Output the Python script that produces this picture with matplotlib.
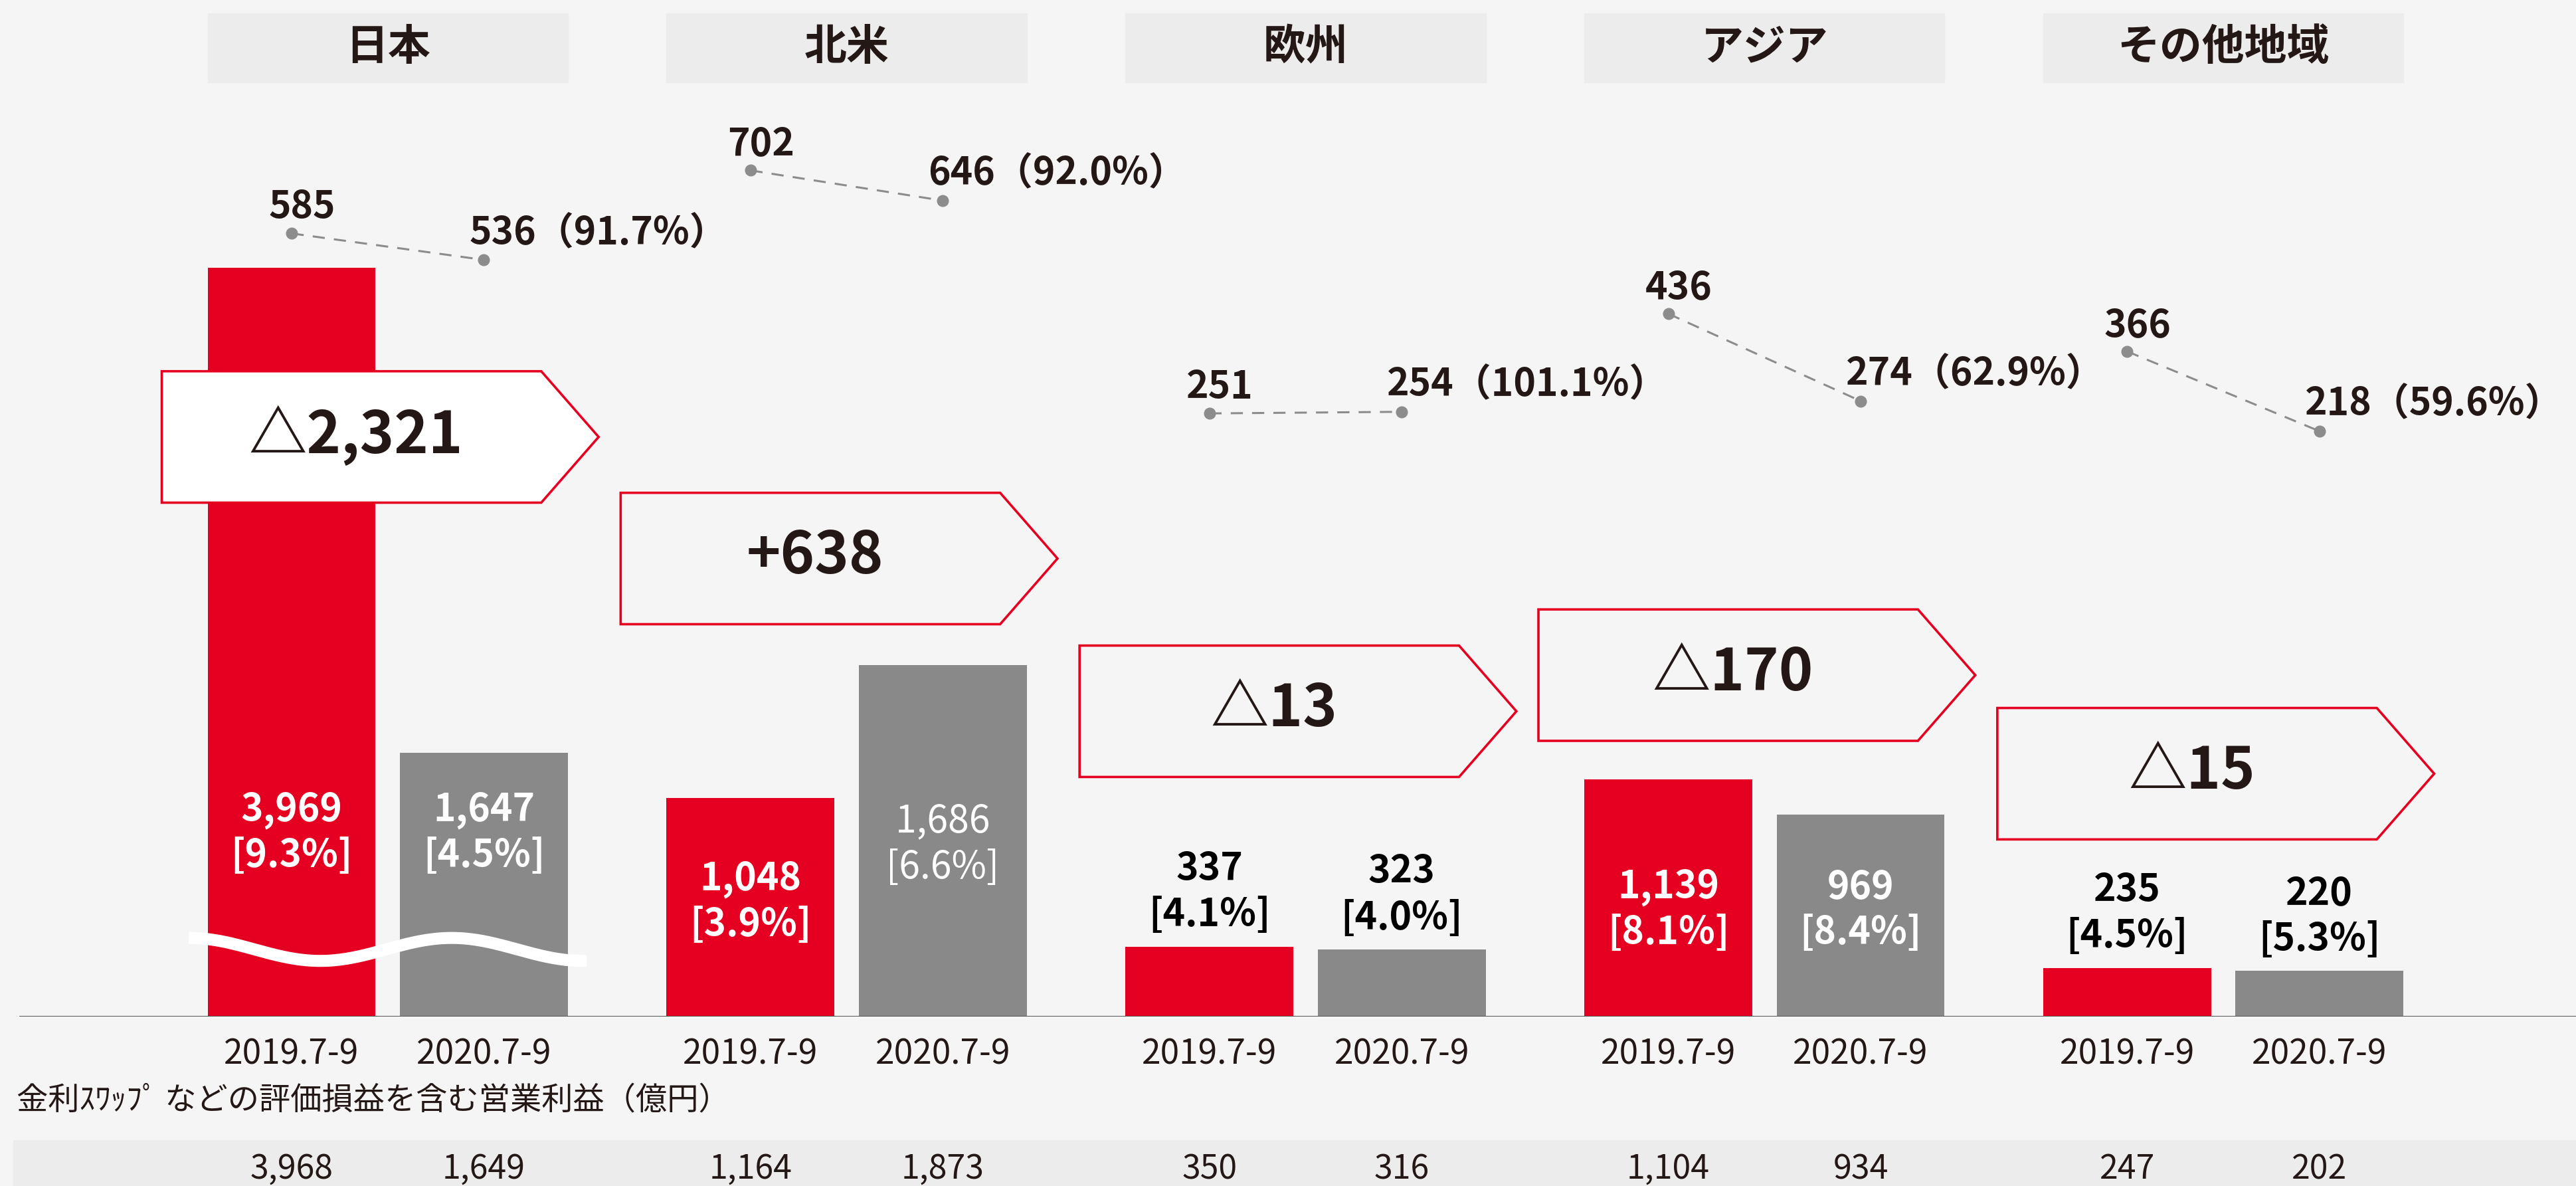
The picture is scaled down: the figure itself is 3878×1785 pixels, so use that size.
import numpy as np
import matplotlib
matplotlib.use("Agg")
import matplotlib.pyplot as plt
from matplotlib.patches import Rectangle, Polygon
from matplotlib.transforms import blended_transform_factory

# データ
regions = ["日本", "北米", "欧州", "アジア", "その他地域"]
periods = ["2019.7-9", "2020.7-9"]
profit_2019 = [3969, 1048, 337, 1139, 235]
profit_2020 = [1647, 1686, 323, 969, 220]
margin_2019 = ["9.3%", "3.9%", "4.1%", "8.1%", "4.5%"]
margin_2020 = ["4.5%", "6.6%", "4.0%", "8.4%", "5.3%"]
diff_labels = ["△2,321", "+638", "△13", "△170", "△15"]
line_2019 = [585, 702, 251, 436, 366]
line_2020 = [536, 646, 254, 274, 218]
line_ratio = ["91.7%", "92.0%", "101.1%", "62.9%", "59.6%"]
swap_2019 = [3968, 1164, 350, 1104, 247]
swap_2020 = [1649, 1873, 316, 934, 202]
note = "金利ｽﾜｯﾌﾟ などの評価損益を含む営業利益（億円）"

# 配置
RED = "#e50021"
GRAY = "#898989"
DARK = "#231815"
BG = "#f5f5f5"
NUM = ["Noto Sans CJK JP", "DejaVu Sans"]
JP = ["Noto Sans CJK JP", "DejaVu Sans"]
REF_H = 722.0
bw, off = 0.366, 0.419
cut = [380, 0, 0, 0, 0]              # 日本は省略表示
box_y = [266, 340, 433, 411, 471]    # 矢印ボックス中心 (参照px)
in_lab_y = [(493, 493), (535, 500), None, (540, 540), None]
light_lab = [(False, False), (False, True), None, (False, False), None]

fig = plt.figure(figsize=(38.78, 17.85), dpi=100, facecolor=BG)
ax = fig.add_axes([0, 1 - 619 / REF_H, 1, 619 / REF_H])
ax.set_xlim(-0.6355, 4.978)
ax.set_ylim(0, 619 / 0.127)
ax.axis("off")
tr = blended_transform_factory(ax.transData, fig.transFigure)

def fy(y):
    return 1 - y / REF_H

xs = np.arange(len(regions))
h19 = np.array(profit_2019) - np.array(cut)
h20 = np.array(profit_2020) - np.array(cut)
ax.bar(xs, h19, bw, color=RED, zorder=2)
ax.bar(xs + off, h20, bw, color=GRAY, zorder=2)
ax.axhline(0, xmin=12 / 1568, color="#5a5a5a", lw=2.2, zorder=3)

# 省略の波線
wx = np.linspace(-0.224, 0.643, 200)
ax.plot(wx, 323 + 55 * np.cos(np.pi * (wx + 0.224) / 0.2864),
        color="white", lw=13, solid_capstyle="butt", zorder=4)

# 見出し
for i, name in enumerate(regions):
    ax.add_patch(Rectangle((i - bw / 2, fy(50)), off + bw, fy(8) - fy(50),
                           transform=tr, color="#ececec", zorder=1))
    ax.text(i + off / 2, fy(29), name, transform=tr, ha="center", va="center",
            fontsize=46, fontweight="bold", family=JP, color=DARK)

# 矢印ボックス
for i, lab in enumerate(diff_labels):
    L, R, T = i - 0.283, i + 0.544, i + 0.669
    yc, hh = fy(box_y[i]), 40 / REF_H
    pts = [(L, yc - hh), (R, yc - hh), (T, yc), (R, yc + hh), (L, yc + hh)]
    ax.add_patch(Polygon(pts, closed=True, transform=tr, zorder=5,
                         facecolor="white" if i == 0 else "none",
                         edgecolor=RED, lw=2.6, joinstyle="miter"))
    ax.text((L + R) / 2 + 0.01, fy(box_y[i] - 1), lab, transform=tr, ha="center",
            va="center", fontsize=63, fontweight="bold", family=NUM, color=DARK,
            zorder=6)

# 棒のラベル
for i in range(len(regions)):
    for j, (val, mg, h) in enumerate([(profit_2019[i], margin_2019[i], h19[i]),
                                      (profit_2020[i], margin_2020[i], h20[i])]):
        x = i + j * off
        if in_lab_y[i] is not None:
            y = in_lab_y[i][j]
            wt = "normal" if light_lab[i][j] else "bold"
            ax.text(x, fy(y), f"{val:,}", transform=tr, ha="center", va="center",
                    fontsize=41, fontweight=wt, family=NUM, color="white", zorder=6)
            ax.text(x, fy(y + 28), f"[{mg}]", transform=tr, ha="center", va="center",
                    fontsize=41, fontweight=wt, family=NUM, color="white", zorder=6)
        else:
            ax.annotate(f"{val:,}", (x, h), xytext=(0, 84), textcoords="offset points",
                        ha="center", va="center", fontsize=41, fontweight="bold",
                        family=NUM, color="black")
            ax.annotate(f"[{mg}]", (x, h), xytext=(0, 34), textcoords="offset points",
                        ha="center", va="center", fontsize=41, fontweight="bold",
                        family=NUM, color="black")
        ax.text(x, fy(642), periods[j], transform=tr, ha="center", va="center",
                fontsize=37, family=NUM, color=DARK)

# 点線（第二軸）
ax2 = fig.add_axes([0, 1 - 334 / REF_H, 1, 334 / REF_H])
ax2.set_xlim(ax.get_xlim())
ax2.set_ylim(0, 334 / 0.328)
ax2.axis("off")
for i in range(len(regions)):
    ax2.plot([i, i + off], [line_2019[i], line_2020[i]], ls="--", dashes=(6, 4.5),
             color="#8c8c8c", lw=2.2, marker="o", ms=12)
    ax2.annotate(f"{line_2019[i]}", (i, line_2019[i]), xytext=(11, 28),
                 textcoords="offset points", ha="center", va="center",
                 fontsize=41, fontweight="bold", family=NUM, color=DARK)
    ax2.annotate(f"{line_2020[i]}（{line_ratio[i]}）", (i + off, line_2020[i]),
                 xytext=(-16, 29), textcoords="offset points", ha="left", va="center",
                 fontsize=41, fontweight="bold", family=NUM, color=DARK)

# 下部
fig.text(0.0064, fy(670), note, ha="left", va="center", fontsize=34,
         family=JP, color=DARK)
fig.patches.append(Rectangle((0.0051, 0), 1, 28 / REF_H, transform=fig.transFigure,
                             color="#ececec", zorder=-1))
for i in range(len(regions)):
    for j, v in enumerate([swap_2019[i], swap_2020[i]]):
        ax.text(i + j * off, 0.014, f"{v:,}", transform=tr, ha="center", va="center",
                fontsize=36, family=NUM, color=DARK, zorder=6)

fig.savefig("out.png", dpi=100, facecolor=BG)
